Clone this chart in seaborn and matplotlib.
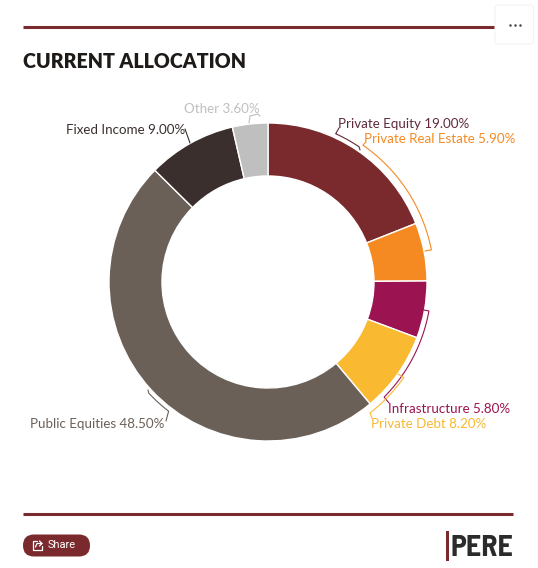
import numpy as np
import matplotlib
matplotlib.use("Agg")
import matplotlib.pyplot as plt
from matplotlib.patches import FancyBboxPatch, Rectangle
import seaborn as sns

# Allocation data, clockwise from twelve o'clock
categories = ["Private Equity", "Private Real Estate", "Infrastructure", "Private Debt",
              "Public Equities", "Fixed Income", "Other"]
shares = [19.0, 5.9, 5.8, 8.2, 48.5, 9.0, 3.6]
slice_colors = ["#7A2A2D", "#F68A22", "#9B1350", "#F9B930", "#6B6057", "#3A2F2C", "#BFBFBF"]
text_colors = ["#5E2A3A", "#F68A22", "#9B1350", "#F9B930", "#6B6057", "#3A2F2C", "#BFBFBF"]

W, H = 538, 568
CX, CY, R_OUT, R_IN = 268, 282, 159, 106
BRAND = "#7A2A2D"

sns.set_theme(style="white")
plt.rcParams["font.family"] = ["Lato", "DejaVu Sans"]

fig = plt.figure(figsize=(W / 100, H / 100), dpi=100, facecolor="white")

# Donut, in an axes whose origin is the donut centre (units are pixels)
ax = fig.add_axes([0, 0, 1, 1])
ax.pie(shares, colors=sns.color_palette(slice_colors), startangle=90, counterclock=False,
       radius=R_OUT, wedgeprops=dict(width=R_OUT - R_IN, edgecolor="white", linewidth=1))
ax.set_xlim(-CX, W - CX)
ax.set_ylim(CY - H, CY)
ax.set_aspect("equal")
ax.axis("off")

# Page furniture and labels, in an overlay measured from the top-left corner
ov = fig.add_axes([0, 0, 1, 1], zorder=5)
ov.set_xlim(0, W)
ov.set_ylim(H, 0)
ov.axis("off")
ov.patch.set_alpha(0)


def arc(p0, p1, r):
    """Points along a circle about the donut centre, from p0's bearing to p1's."""
    a0 = np.arctan2(p0[1] - CY, p0[0] - CX)
    a1 = np.arctan2(p1[1] - CY, p1[0] - CX)
    d = (a1 - a0 + np.pi) % (2 * np.pi) - np.pi
    t = np.linspace(a0, a0 + d, 40)
    return np.column_stack([CX + r * np.cos(t), CY + r * np.sin(t)])


def leader(color, head, arc_span=None, radius=None, tail=()):
    pts = [np.array(head, float).reshape(-1, 2)]
    if arc_span is not None:
        pts.append(arc(arc_span[0], arc_span[1], radius))
    if len(tail):
        pts.append(np.array(tail, float).reshape(-1, 2))
    xy = np.vstack(pts)
    ov.plot(xy[:, 0], xy[:, 1], color=color, lw=0.8, solid_joinstyle="round", zorder=2)


leader(text_colors[0], [(339, 128)], ((336, 133), (359, 147)), 163, [(360, 150)])
leader(text_colors[1], [(425, 251)], ((431, 250), (363, 145)), 166.5, [(365, 143)])
leader(text_colors[2], [(424, 310)], ((429, 311), (384, 397)), 163.5, [(389, 403)])
leader(text_colors[3], [(398, 374)], ((403, 377), (370, 413)), 166, [(372, 418)])
leader(text_colors[4], [(148, 390)], ((149, 393), (168, 412)), 163, [(166, 421)])
leader(text_colors[5], [(190, 143), (185, 129)])
leader(text_colors[6], [(249, 123), (250, 116), (258, 114), (260, 116)])

label_anchors = [(338, 123.7, "left"), (364, 139, "left"), (388, 408.7, "left"), (371, 423.7, "left"),
                 (164.5, 423.7, "right"), (185.5, 129.7, "right"), (260, 108.7, "right")]
for name, val, col, (x, y, ha) in zip(categories, shares, text_colors, label_anchors):
    ov.text(x, y, f"{name} {val:.2f}%", color=col, fontsize=9.6, ha=ha, va="center", zorder=3)

# Header and footer rules
ov.plot([23, 513], [26.7, 26.7], color=BRAND, lw=2.2, solid_capstyle="butt")
ov.plot([23, 513], [513.7, 513.7], color=BRAND, lw=2.2, solid_capstyle="butt")
ov.text(23, 67.5, "CURRENT ALLOCATION", fontsize=14.1, fontweight="heavy", color="#1E1A18",
        ha="left", va="baseline")

# Context-menu button
ov.add_patch(FancyBboxPatch((495, 5), 38.5, 39, boxstyle="round,pad=0,rounding_size=3",
                            fc="white", ec="#F3F3F3", lw=0.8, zorder=7))
ov.scatter([510, 515, 520], [24.5, 24.5, 24.5], s=3.2, color="#444444", zorder=8, linewidths=0)

# Share pill with its icon
ov.add_patch(FancyBboxPatch((23, 534.5), 67, 22, boxstyle="round,pad=0,rounding_size=11",
                            fc=BRAND, ec="none", zorder=6))
ov.plot([37, 32.5, 32.5, 41.5, 41.5], [541, 541, 550, 550, 546], color="white", lw=0.9, zorder=7)
ov.plot([35.5, 37, 42], [547, 543.5, 543.5], color="white", lw=0.9, zorder=7)
ov.plot([39.5, 42, 39.5], [541, 543.5, 546], color="white", lw=0.9, zorder=7)
ov.text(48, 545, "Share", family="Roboto", fontsize=7.9, color="white", va="center", zorder=7)

# Publication wordmark
ov.add_patch(Rectangle((445.5, 531), 3.2, 30, fc=BRAND, ec="none"))
ov.text(513.5, 556.5, "PERE", family=["Barlow Semi Condensed", "Roboto", "DejaVu Sans"],
        fontweight="bold", fontsize=21.5, color="#2B2B2B", ha="right", va="baseline")

fig.savefig("out.png", dpi=100, facecolor="white")
